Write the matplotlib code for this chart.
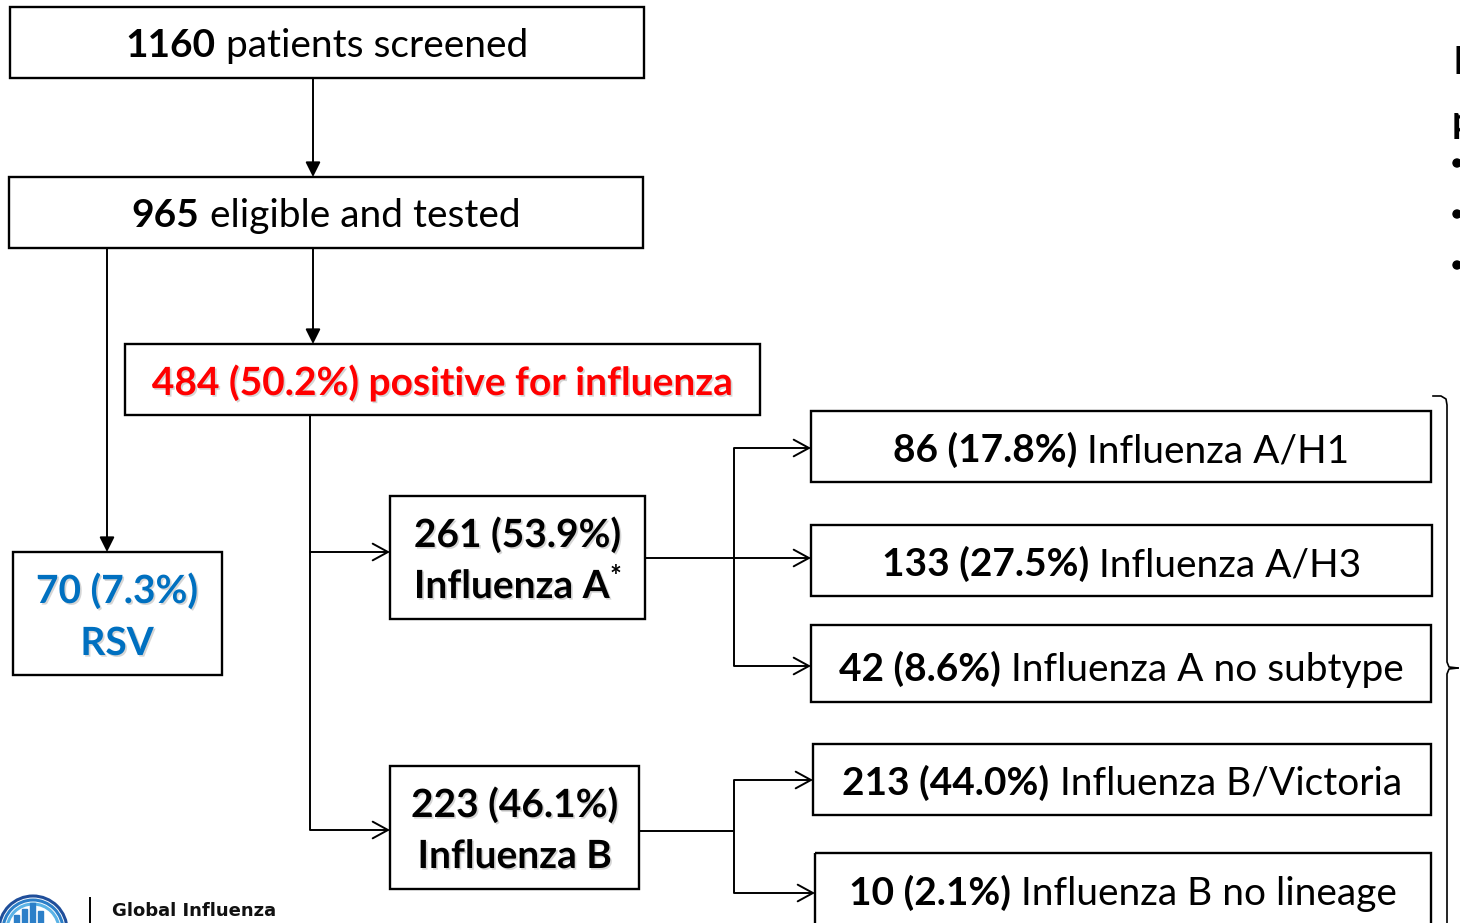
import matplotlib
matplotlib.use('Agg')
import matplotlib.pyplot as plt
from matplotlib.patches import Rectangle, FancyArrowPatch, Arc, Circle
import matplotlib.patheffects as pe

plt.rcParams['font.family'] = ['Lato', 'DejaVu Sans']

# --- data ---
screened = 1160
tested = 965
flu_n, flu_pct = 484, 50.2
rsv_n, rsv_pct = 70, 7.3
type_labels = ['Influenza A', 'Influenza B']
type_n = [261, 223]
type_pct = [53.9, 46.1]
sub_labels = ['Influenza A/H1', 'Influenza A/H3', 'Influenza A no subtype',
              'Influenza B/Victoria', 'Influenza B no lineage']
sub_n = [86, 133, 42, 213, 10]
sub_pct = [17.8, 27.5, 8.6, 44.0, 2.1]

RED = '#FF0000'
BLUE = '#0070C0'
FS = 28

fig = plt.figure(figsize=(14.6, 9.23), dpi=100)
ax = fig.add_axes([0, 0, 1, 1])
ax.set_xlim(0, 1460)
ax.set_ylim(923, 0)
ax.axis('off')
renderer = fig.canvas.get_renderer()
shadow = [pe.withSimplePatchShadow(offset=(1.2, -1.2), shadow_rgbFace='#888888', alpha=0.35)]


def box(x0, y0, x1, y1):
    ax.add_patch(Rectangle((x0, y0), x1 - x0, y1 - y0, fill=False, lw=1.7, ec='black'))


def mixed(xc, y, parts):
    # parts: (text, weight, color, size, dy, shadow)
    objs = []
    for txt, w, c, s, dy, sh in parts:
        t = ax.text(0, y + dy, txt, fontsize=s, fontweight=w, color=c, va='baseline', ha='left')
        if sh:
            t.set_path_effects(shadow)
        objs.append(t)
    widths = [o.get_window_extent(renderer).width for o in objs]
    x = xc - sum(widths) / 2
    for o, wd in zip(objs, widths):
        o.set_x(x)
        x += wd


def line(xs, ys):
    ax.plot(xs, ys, color='black', lw=1.4, solid_capstyle='butt')


def arrow(p0, p1, filled=False):
    style = '-|>,head_length=9,head_width=4.5' if filled else '->,head_length=11,head_width=6'
    ax.add_patch(FancyArrowPatch(p0, p1, arrowstyle=style, mutation_scale=1, lw=1.4,
                                 color='black', shrinkA=0, shrinkB=0))


# top boxes
box(10, 7, 644, 78)
mixed(327, 57, [(str(screened), 'bold', 'black', FS, 0, False),
                (' patients screened', 'normal', 'black', FS, 0, False)])
box(9, 177, 643, 248)
mixed(326, 227, [(str(tested), 'bold', 'black', FS, 0, False),
                 (' eligible and tested', 'normal', 'black', FS, 0, False)])
arrow((313, 78), (313, 177), filled=True)
arrow((313, 248), (313, 344), filled=True)
arrow((107, 248), (107, 552), filled=True)

# influenza positive
box(125, 344, 760, 415)
mixed(442, 395, [(f'{flu_n} ({flu_pct:.1f}%) positive for influenza', 'bold', RED, FS, 0, True)])

# RSV
box(13, 552, 222, 675)
mixed(117, 603, [(f'{rsv_n} ({rsv_pct:.1f}%)', 'bold', BLUE, FS, 0, True)])
mixed(117, 655, [('RSV', 'bold', BLUE, FS, 0, True)])

# type boxes
type_box = [(390, 496, 645, 619), (390, 766, 639, 889)]
for i, (x0, y0, x1, y1) in enumerate(type_box):
    box(x0, y0, x1, y1)
    xc = (x0 + x1) / 2
    mixed(xc, y0 + 51, [(f'{type_n[i]} ({type_pct[i]:.1f}%)', 'bold', 'black', FS, 0, True)])
    if i == 0:
        mixed(xc, y0 + 102, [(type_labels[i], 'bold', 'black', FS, 0, True),
                             ('*', 'bold', 'black', 20, -13, False)])
    else:
        mixed(xc, y0 + 102, [(type_labels[i], 'bold', 'black', FS, 0, True)])

line([310, 310], [415, 830])
arrow((310, 552), (390, 552))
arrow((310, 830), (390, 830))

# subtype boxes
sub_box = [(811, 411, 1431, 482), (811, 525, 1432, 596), (811, 625, 1431, 702),
           (813, 744, 1431, 815), (815, 853, 1431, 935)]
sub_base = [462, 576, 681, 795, 905]
for i, (x0, y0, x1, y1) in enumerate(sub_box):
    box(x0, y0, x1, y1)
    mixed((x0 + x1) / 2, sub_base[i],
          [(f'{sub_n[i]} ({sub_pct[i]:.1f}%)', 'bold', 'black', FS, 0, False),
           (' ' + sub_labels[i], 'normal', 'black', FS, 0, False)])

# connectors A
line([645, 734], [558, 558])
line([734, 734], [448, 666])
arrow((734, 448), (811, 448))
arrow((734, 558), (811, 558))
arrow((734, 666), (811, 666))
# connectors B
line([639, 734], [831, 831])
line([734, 734], [780, 893])
arrow((734, 780), (813, 780))
arrow((734, 893), (815, 893))

# right brace
ax.plot([1433, 1441, 1446, 1447, 1447, 1449, 1458], [396, 396, 399, 405, 662, 667, 668],
        color='black', lw=1.2)
ax.plot([1458, 1449, 1447, 1447], [668, 669, 674, 930], color='black', lw=1.2)

# cut-off text at right edge (slide continues beyond the crop)
ax.text(1452, 74, 'F', fontsize=FS, color='black', va='baseline')
ax.text(1452, 133, 'p', fontsize=FS, fontweight='bold', color='black', va='baseline')
for yb in [163, 214, 265]:
    ax.add_patch(Circle((1457, yb), 4, color='black'))

# logo bottom-left
for r, c in [(34, '#1F4E9A'), (30, '#2C7FC8'), (26, '#5BB3E6')]:
    ax.add_patch(Arc((33, 930), 2 * r, 2 * r, theta1=180, theta2=360, lw=2.2, color=c))
for bx, bh in [(14, 8), (22, 14), (30, 20), (38, 12)]:
    ax.add_patch(Rectangle((bx, 923 - bh), 5, bh, color='#2C7FC8'))
line([90, 90], [897, 923])
ax.text(112, 916, 'Global Influenza', fontsize=13, fontweight='bold', color='#111111',
        va='baseline', family=['DejaVu Sans'])

fig.savefig('out.png', dpi=100)
